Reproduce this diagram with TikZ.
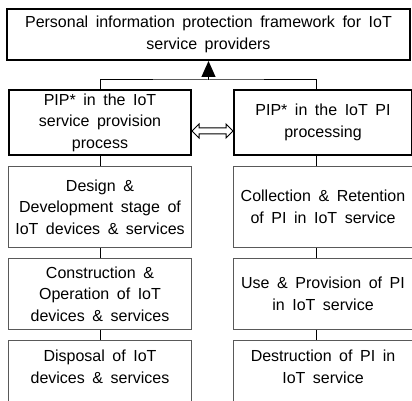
\documentclass[tikz,border=0pt]{standalone}
\usepackage{fontspec}
\setmainfont{Liberation Sans}[WordSpace=1.7]
\usetikzlibrary{arrows.meta,calc}
\begin{document}
\begin{tikzpicture}[x=1pt,y=-1pt,
  every node/.style={font=\fontsize{16}{21.5}\selectfont, align=center, inner sep=0pt},
  mainbox/.style={draw=black, line width=2pt},
  graybox/.style={draw=black!65, line width=1.2pt},
  grayline/.style={draw=black!65, line width=1.2pt},
  conn/.style={draw=black, line width=1pt}]
\clip (0,0) rectangle (412,401);
\useasboundingbox (0,0) rectangle (412,401);
% top box
\node[mainbox, minimum width=403, minimum height=51] (top) at (208.5,34.5)
  {Personal information protection framework for IoT\\service providers};
% second row
\node[mainbox, minimum width=182, minimum height=65] (L) at (100,122.5)
  {PIP* in the IoT\\service provision\\process};
\node[mainbox, minimum width=178, minimum height=65] (R) at (323,122.5)
  {PIP* in the IoT PI\\processing};
% left column
\node[graybox, minimum width=183, minimum height=81] (D1) at (100,207)
  {Design \&\\Development stage of\\IoT devices \& services};
\node[graybox, minimum width=183, minimum height=71] (D2) at (100,294)
  {Construction \&\\Operation of IoT\\devices \& services};
\node[minimum width=183, minimum height=53] (D3) at (100,367)
  {Disposal of IoT\\devices \& services};
% right column
\node[graybox, minimum width=179, minimum height=81] (C1) at (323,207)
  {Collection \& Retention\\of PI in IoT service};
\node[graybox, minimum width=179, minimum height=71] (C2) at (323,294)
  {Use \& Provision of PI\\in IoT service};
\node[minimum width=179, minimum height=53] (C3) at (323,367)
  {Destruction of PI in\\IoT service};
% open-bottom outlines of last boxes
\draw[grayline] ([yshift=-40pt]D3.south west) -- (D3.north west) -- (D3.north east) -- ([yshift=-40pt]D3.south east);
\draw[grayline] ([yshift=-40pt]C3.south west) -- (C3.north west) -- (C3.north east) -- ([yshift=-40pt]C3.south east);
% junction to top
\coordinate (jn) at (208.5,80);
\draw[conn] (L.north) |- (jn) -| ([xshift=-7pt]R.north);
\draw[conn, -{Triangle[length=16pt,width=14pt]}] (jn) -- (top.south);
% vertical connectors
\draw[conn] (L.south) -- (D1.north);
\draw[conn] (D1.south) -- (D2.north);
\draw[conn] (D2.south) -- (D3.north);
\draw[conn] ([xshift=-7pt]R.south) -- ([xshift=-7pt]C1.north);
\draw[conn] ([xshift=-7pt]C1.south) -- ([xshift=-7pt]C2.north);
\draw[conn] ([xshift=-7pt]C2.south) -- ([xshift=-7pt]C3.north);
% hollow double arrow
\coordinate (da) at (L.east |- 0,131);
\coordinate (db) at (R.west |- 0,131);
\draw[line width=1pt, fill=white] (da) -- ++(7,-7) -- ++(0,4) -- ($(db)+(-7,-3)$) -- ++(0,-4) -- (db)
  -- ++(-7,7) -- ++(0,-4) -- ($(da)+(7,3)$) -- ++(0,4) -- cycle;
\end{tikzpicture}
\end{document}
